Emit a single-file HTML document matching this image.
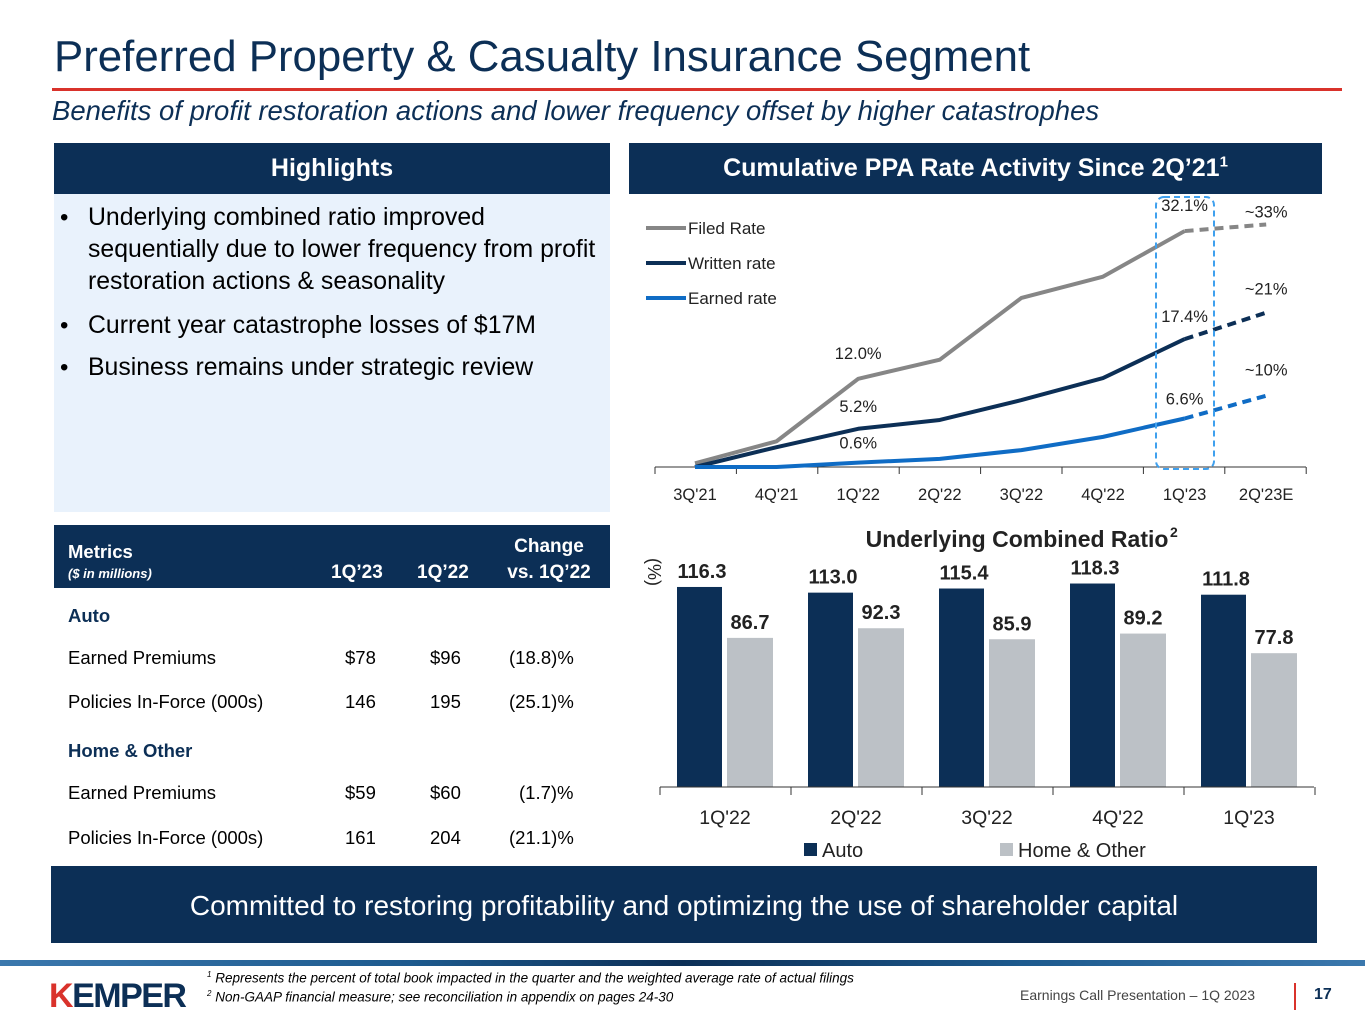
<!DOCTYPE html>
<html><head><meta charset="utf-8"><style>
*{margin:0;padding:0;box-sizing:border-box}
body{width:1365px;height:1024px;background:#fff;font-family:"Liberation Sans",sans-serif;position:relative;overflow:hidden;color:#000}
.a{position:absolute;white-space:nowrap}
.navy{background:#0c2f56}
.t{font-size:18.5px}
.b{position:absolute;left:88px;font-size:24px;line-height:32px;white-space:nowrap}
.dot{position:absolute;left:60px;font-size:24px;line-height:32px}
</style></head><body>
<div class="a" style="left:54px;top:32px;font-size:43.8px;color:#0c2f56">Preferred Property &amp; Casualty Insurance Segment</div>
<div class="a" style="left:52px;top:88px;width:1290px;height:3px;background:#d9322b"></div>
<div class="a" style="left:52px;top:95px;font-size:27.5px;font-style:italic;color:#0c2f56">Benefits of profit restoration actions and lower frequency offset by higher catastrophes</div>

<div class="a navy" style="left:54px;top:143px;width:556px;height:51px;color:#fff;font-weight:bold;font-size:25px;text-align:center;line-height:51px">Highlights</div>
<div class="a" style="left:54px;top:194px;width:556px;height:318px;background:#e9f2fc"></div>
<div class="dot" style="top:202px">•</div>
<div class="b" style="top:202px;font-size:24.8px">Underlying combined ratio improved<br>sequentially due to lower frequency from profit<br>restoration actions &amp; seasonality</div>
<div class="dot" style="top:310px">•</div>
<div class="b" style="top:310px;font-size:24.8px">Current year catastrophe losses of $17M</div>
<div class="dot" style="top:352px">•</div>
<div class="b" style="top:352px;font-size:24.8px">Business remains under strategic review</div>

<div class="a navy" style="left:54px;top:525px;width:556px;height:63px"></div>
<div class="a" style="left:68px;top:541px;color:#fff;font-weight:bold;font-size:18.5px">Metrics</div>
<div class="a" style="left:68px;top:566px;color:#fff;font-weight:bold;font-style:italic;font-size:13px">($ in millions)</div>
<div class="a" style="left:331px;top:562px;color:#fff;font-weight:bold;font-size:19px">1Q’23</div>
<div class="a" style="left:417px;top:562px;color:#fff;font-weight:bold;font-size:19px">1Q’22</div>
<div class="a" style="left:496px;top:534px;width:106px;text-align:center;color:#fff;font-weight:bold;font-size:19px;line-height:26px">Change<br>vs. 1Q’22</div>

<div class="a t" style="left:68px;top:605px;font-weight:bold;color:#0c2f56">Auto</div>
<div class="a t" style="left:68px;top:647px">Earned Premiums</div>
<div class="a t" style="left:345px;top:647px">$78</div>
<div class="a t" style="left:430px;top:647px">$96</div>
<div class="a t" style="left:509px;top:647px">(18.8)%</div>
<div class="a t" style="left:68px;top:691px">Policies In-Force (000s)</div>
<div class="a t" style="left:345px;top:691px">146</div>
<div class="a t" style="left:430px;top:691px">195</div>
<div class="a t" style="left:509px;top:691px">(25.1)%</div>
<div class="a t" style="left:68px;top:740px;font-weight:bold;color:#0c2f56">Home &amp; Other</div>
<div class="a t" style="left:68px;top:782px">Earned Premiums</div>
<div class="a t" style="left:345px;top:782px">$59</div>
<div class="a t" style="left:430px;top:782px">$60</div>
<div class="a t" style="left:519px;top:782px">(1.7)%</div>
<div class="a t" style="left:68px;top:827px">Policies In-Force (000s)</div>
<div class="a t" style="left:345px;top:827px">161</div>
<div class="a t" style="left:430px;top:827px">204</div>
<div class="a t" style="left:509px;top:827px">(21.1)%</div>

<div class="a navy" style="left:629px;top:143px;width:693px;height:51px;color:#fff;font-weight:bold;font-size:25px;text-align:center;line-height:51px">Cumulative PPA Rate Activity Since 2Q’21<sup style="font-size:15px;line-height:0">1</sup></div>

<svg class="a" id="lc" style="left:0;top:0" width="1365" height="1024"></svg>

<div class="a navy" style="left:51px;top:866px;width:1266px;height:77px;color:#fff;font-size:28px;text-align:center;line-height:80px">Committed to restoring profitability and optimizing the use of shareholder capital</div>
<div class="a" style="left:0;top:960px;width:1365px;height:6px;background:linear-gradient(90deg,#3b78ad,#1d5a8e 30%,#0c2f56 50%,#1d5a8e 75%,#3b78ad)"></div>
<div class="a" style="left:49px;top:977px;font-size:34px;font-weight:bold;color:#0c2f56;letter-spacing:-1.5px"><span style="color:#d9322b">K</span>EMPER</div>
<div class="a" style="left:207px;top:970px;font-size:13.5px;font-style:italic"><sup style="font-size:8px">1</sup> Represents the percent of total book impacted in the quarter and the weighted average rate of actual filings</div>
<div class="a" style="left:207px;top:989px;font-size:13.5px;font-style:italic"><sup style="font-size:8px">2</sup> Non-GAAP financial measure; see reconciliation in appendix on pages 24-30</div>
<div class="a" style="left:1020px;top:987px;font-size:14px;color:#444">Earnings Call Presentation – 1Q 2023</div>
<div class="a" style="left:1294px;top:983px;width:2px;height:27px;background:#d9322b"></div>
<div class="a" style="left:1314px;top:986px;font-size:16px;font-weight:bold;color:#0c2f56">17</div>

<script>
const quarters = ["3Q'21","4Q'21","1Q'22","2Q'22","3Q'22","4Q'22","1Q'23","2Q'23E"];
const filedRate = [0.5,3.5,12.0,14.6,23.0,25.9,32.1,33];
const writtenRate = [0,2.7,5.2,6.4,9.1,12.1,17.4,21];
const earnedRate = [0,0,0.6,1.1,2.3,4.1,6.6,9.7];
const pointLabels = [["12.0%",2,"filed"],["5.2%",2,"written"],["0.6%",2,"earned"],["32.1%",6,"filed"],["17.4%",6,"written"],["6.6%",6,"earned"]];
const estLabels = ["~33%","~21%","~10%"];

const barCats = ["1Q'22","2Q'22","3Q'22","4Q'22","1Q'23"];
const autoRatio = [116.3,113.0,115.4,118.3,111.8];
const homeRatio = [86.7,92.3,85.9,89.2,77.8];

const NS="http://www.w3.org/2000/svg";
const svg=document.getElementById('lc');
function mk(t,at,txt){const e=document.createElementNS(NS,t);for(const k in at)e.setAttribute(k,at[k]);if(txt!==undefined)e.textContent=txt;svg.appendChild(e);return e;}
const lx=i=>695+i*81.6;
const ly=v=>467-v*7.35;
mk('line',{x1:655,y1:467,x2:1306,y2:467,stroke:'#333','stroke-width':1});
for(let i=0;i<=8;i++){const t=mk('line',{x1:655+i*81.4,y1:467,x2:655+i*81.4,y2:474,stroke:'#333'});}
quarters.forEach((q,i)=>{const t=mk('text',{x:lx(i),y:500,'font-size':16.5,'text-anchor':'middle',fill:'#222'},q);});
const series=[["filed",filedRate,'#868686'],["written",writtenRate,'#0c2f56'],["earned",earnedRate,'#0f6cc5']];
const sMap={};
series.forEach(([n,d,c])=>{sMap[n]=d;
 const solid=d.slice(0,7).map((v,i)=>lx(i)+','+ly(v)).join(' ');
 const p=mk('polyline',{points:solid,fill:'none',stroke:c,'stroke-width':4,'stroke-linejoin':'round'});
 
 const e=mk('line',{x1:lx(6),y1:ly(d[6]),x2:lx(7),y2:ly(d[7]),stroke:c,'stroke-width':4,'stroke-dasharray':'9,6'});
 
});
pointLabels.forEach(([t,i,n])=>{const off=n==='earned'?14:(n==='filed'?20:17);const e=mk('text',{x:lx(i),y:ly(sMap[n][i])-off,'font-size':16.5,'text-anchor':'middle',fill:'#222'},t);});
[filedRate,writtenRate,earnedRate].forEach((d,k)=>{const e=mk('text',{x:lx(7),y:ly(d[7])-[7,18,20][k],'font-size':16.5,'text-anchor':'middle',fill:'#222'},estLabels[k]);});
const hb=mk('rect',{x:1156,y:197,width:58,height:272,rx:8,fill:'none',stroke:'#3fa0ee','stroke-width':2,'stroke-dasharray':'6,4'});

[["Filed Rate",'#868686',228],["Written rate",'#0c2f56',263],["Earned rate",'#0f6cc5',298]].forEach(([t,c,y])=>{
 const l=mk('line',{x1:646,y1:y,x2:686,y2:y,stroke:c,'stroke-width':4});
 const e=mk('text',{x:688,y:y+6,'font-size':17,fill:'#222'},t);});

const bx=i=>725+i*131;
const by=v=>787-v*1.72;
const bt=mk('text',{x:1017,y:547,'font-size':23,'font-weight':'bold','text-anchor':'middle',fill:'#222'},'Underlying Combined Ratio');

const sup=mk('text',{x:1170,y:537,'font-size':14,'font-weight':'bold',fill:'#222'},'2');

const yl=mk('text',{x:0,y:0,'font-size':18,fill:'#222','text-anchor':'middle',transform:'translate(648,572) rotate(90)'},'(%)');

barCats.forEach((c,i)=>{
 const a=mk('rect',{x:bx(i)-48,y:by(autoRatio[i]),width:45,height:autoRatio[i]*1.72,fill:'#0c2f56'});
 const h=mk('rect',{x:bx(i)+2,y:by(homeRatio[i]),width:46,height:homeRatio[i]*1.72,fill:'#bcc1c6'});
 const at=mk('text',{x:bx(i)-23,y:by(autoRatio[i])-9,'font-size':20,'font-weight':'bold','text-anchor':'middle',fill:'#222'},autoRatio[i].toFixed(1));
 const ht=mk('text',{x:bx(i)+25,y:by(homeRatio[i])-9,'font-size':20,'font-weight':'bold','text-anchor':'middle',fill:'#222'},homeRatio[i].toFixed(1));
 const xl=mk('text',{x:bx(i),y:824,'font-size':19.5,'text-anchor':'middle',fill:'#222'},c);
});
mk('line',{x1:660,y1:787,x2:1314,y2:787,stroke:'#333'});
for(let i=0;i<=5;i++){const t=mk('line',{x1:660+i*131,y1:787,x2:660+i*131,y2:795,stroke:'#333'});}
[["Auto",'#0c2f56',804],["Home & Other",'#bcc1c6',1000]].forEach(([t,c,x])=>{
 const r=mk('rect',{x:x,y:843,width:13,height:13,fill:c});
 const e=mk('text',{x:x+18,y:857,'font-size':20,fill:'#222'},t);});
</script>
</body></html>
